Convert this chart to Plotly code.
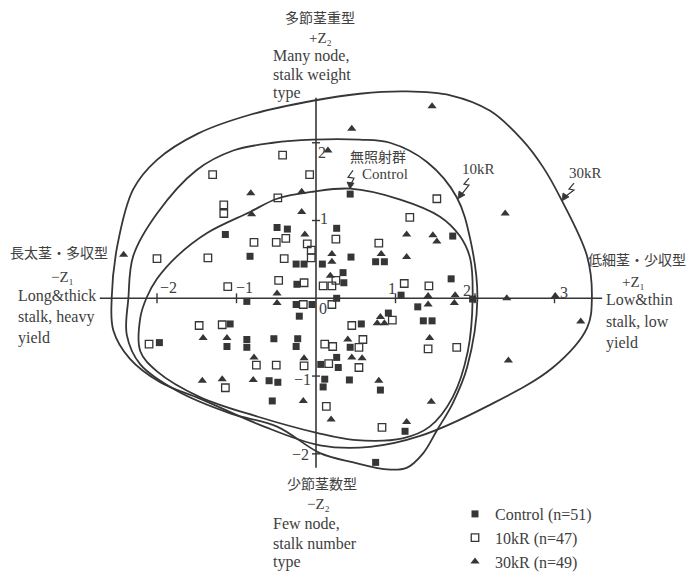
import plotly.graph_objects as go

# ---------------- data (principal component scores) ----------------
ctrl_x = [0.43, -0.49, -0.36, 0.26, -1.14, -0.83, -0.25, -0.15, 0.08, 0.44, 0.75, 0.86, 1.72, 0.34, 0.35,
          -0.24, 0.26, 1.07, 1.70, 1.97, -0.05, -0.25, -0.87, -0.21, 1.28, 0.91, 0.57, 1.35, 1.46, -1.08,
          -1.97, -1.12, -0.87, -0.87, -0.53, -0.23, -0.25, 0.43, 0.26, 0.06, 0.28, 0.11, 0.09, 0.42, 0.81,
          -0.59, -0.48, -0.55, 1.12, 0.75]
ctrl_y = [1.34, 0.91, 0.89, 0.90, 0.82, 0.54, 0.44, 0.44, 0.44, 0.53, 0.47, 0.47, 0.80, 0.33, 0.20,
          0.18, 0.00, 0.04, 0.25, -0.01, -0.08, -0.08, -0.04, -0.23, -0.11, -0.19, -0.33, -0.29, -0.29, -0.33,
          -0.57, -0.62, -0.53, -0.63, -0.52, -0.52, -0.62, -0.63, -0.76, -0.85, -0.89, -1.04, -1.14, -1.05, -1.18,
          -1.06, -1.08, -1.32, -1.71, -2.11]

k10_x = [-0.42, -0.08, -1.30, 1.52, -0.48, -1.16, -1.16, 1.18, 0.25, -0.38, -0.78, -0.50, -0.11, -0.06, -0.06,
         0.79, -2.00, -1.36, -0.40, 0.25, -0.15, 0.09, 0.20, -0.47, -1.11, 1.11, 1.42, -0.16, 0.20, 0.96,
         0.45, 0.59, 0.11, 0.21, 0.54, 0.16, -0.15, 0.54, 1.41, 1.77, -1.47, -1.18, -2.10, -0.75, -0.50,
         -1.14, 0.13, 0.83]
k10_y = [1.84, 1.59, 1.59, 1.28, 1.29, 1.20, 1.09, 1.04, 0.76, 0.77, 0.72, 0.72, 0.70, 0.62, 0.52,
         0.71, 0.51, 0.52, 0.51, 0.23, 0.20, 0.16, 0.16, 0.23, 0.15, 0.19, 0.16, -0.08, -0.08, -0.28,
         -0.35, -0.53, -0.59, -0.62, -0.63, -0.84, -0.87, -0.89, -0.65, -0.63, -0.35, -0.34, -0.59, -0.86, -0.86,
         -1.15, -1.39, -1.66]

k30_x = [1.46, 0.45, 0.15, -0.82, -0.18, 2.38, -0.81, -0.18, -0.14, -2.42, 0.20, 0.20, 0.82, 1.14, 1.47,
         1.52, 1.14, 0.18, -0.49, -0.49, 1.41, 1.75, 1.74, 1.41, 2.40, 3.01, 3.33, 0.81, 0.77, 0.86,
         1.43, 0.40, 0.45, 0.58, -0.15, -1.42, -1.12, -0.78, -1.43, -1.18, -0.79, 0.79, 2.42, -0.16, 0.19,
         1.45, 1.14]
k30_y = [2.47, 2.18, 1.90, 1.35, 1.37, 1.09, 1.08, 1.11, 0.82, 0.56, 0.57, 0.47, 0.57, 0.82, 0.81,
         0.73, 0.53, 0.29, 0.06, -0.06, 0.03, 0.04, -0.06, -0.08, 0.00, 0.03, -0.30, -0.24, -0.32, -0.32,
         -0.51, -0.53, -0.76, -0.77, -0.77, -0.51, -0.51, -0.76, -1.06, -1.04, -1.05, -1.06, -0.80, -1.32, -1.56,
         -1.33, -1.59]

# hand-drawn group envelopes (closed curves)
ctrl_env_x = [-0.04, 0.43, 1.06, 1.56, 1.81, 1.94, 1.97, 1.91, 1.72, 1.43, 1.09, 0.47, 0.01, -0.74, -1.46,
              -2.00, -2.21, -2.21, -2.13, -2.00, -1.75, -1.37, -0.83, -0.49]
ctrl_env_y = [1.37, 1.41, 1.27, 1.05, 0.80, 0.51, 0.00, -0.68, -1.27, -1.65, -1.80, -1.82, -1.73, -1.52, -1.27,
              -0.94, -0.68, -0.25, 0.01, 0.25, 0.54, 0.84, 1.11, 1.28]

k10_env_x = [-0.04, 0.55, 0.93, 1.40, 1.77, 1.94, 2.03, 1.90, 1.72, 1.52, 1.35, 1.14, 0.89, 0.47, 0.05,
             -0.49, -1.08, -1.75, -2.21, -2.38, -2.36, -2.30, -2.00, -1.50, -1.04, -0.54]
k10_env_y = [2.04, 2.04, 2.00, 1.75, 1.30, 0.76, 0.00, -0.89, -1.35, -1.70, -1.99, -2.18, -2.20, -2.11, -1.99,
             -1.65, -1.48, -1.19, -0.85, -0.47, 0.00, 0.54, 1.09, 1.65, 1.90, 2.00]

k30_env_x = [-0.04, 0.55, 1.14, 1.69, 2.19, 2.60, 2.86, 3.07, 3.41, 3.47, 3.41, 2.98, 2.15, 1.31, 0.68,
             0.05, -0.70, -1.46, -1.96, -2.34, -2.55, -2.57, -2.50, -2.30, -2.00, -1.48, -0.83]
k30_env_y = [2.54, 2.63, 2.66, 2.61, 2.41, 2.03, 1.68, 1.30, 0.54, 0.00, -0.38, -0.89, -1.39, -1.77, -1.91,
             -1.89, -1.63, -1.29, -1.08, -0.78, -0.41, 0.00, 0.67, 1.40, 1.78, 2.12, 2.36]

# axes
x_axis_extent = [-2.72, 3.60]
y_axis_extent = [-2.18, 2.58]
x_ticks = [-2, -1, 1, 2, 3]
x_tick_labels = ["−2", "−1", "1", "2", "3"]
y_ticks = [-2, -1, 1, 2]
y_tick_label_vals = [2, 1, 0, -1, -2]
y_tick_labels = ["2", "1", "0", "−1", "−2"]

series_names = ["Control (n=51)", "10kR (n=47)", "30kR (n=49)"]

# ---------------- styling / layout helpers ----------------
INK = "#363636"
TXT = "#404040"
FONT = "Liberation Serif, DejaVu Serif, Noto Sans CJK JP, serif"
W, H = 696, 579
OX, OY, SX, SY = 316, 303, 79.5, 79.0   # pixel position of origin and pixels per unit


def D(px, py):
    """pixel position in the picture -> data coordinates"""
    return (px - OX) / SX, (OY - py) / SY


fig = go.Figure()

for ex, ey in [(k30_env_x, k30_env_y), (k10_env_x, k10_env_y), (ctrl_env_x, ctrl_env_y)]:
    fig.add_trace(go.Scatter(x=ex + ex[:1], y=ey + ey[:1], mode="lines",
                             line=dict(shape="spline", smoothing=1.0, color=INK, width=1.8),
                             hoverinfo="skip", showlegend=False))

fig.add_trace(go.Scatter(x=ctrl_x, y=ctrl_y, mode="markers", name=series_names[0],
                         marker=dict(symbol="square", size=7, color=INK)))
fig.add_trace(go.Scatter(x=k10_x, y=k10_y, mode="markers", name=series_names[1],
                         marker=dict(symbol="square-open", size=7.5, color=INK, line=dict(width=1.3, color=INK))))
fig.add_trace(go.Scatter(x=k30_x, y=k30_y, mode="markers", name=series_names[2],
                         marker=dict(symbol="triangle-up", size=8, color=INK)))

shapes = []
shapes.append(dict(type="line", x0=x_axis_extent[0], x1=x_axis_extent[1], y0=0, y1=0,
                   line=dict(color=INK, width=1.6), layer="below"))
shapes.append(dict(type="line", x0=0, x1=0, y0=y_axis_extent[0], y1=y_axis_extent[1],
                   line=dict(color=INK, width=1.6), layer="below"))
tlx = 5 / SY
tly = 4 / SX
for t in x_ticks:
    shapes.append(dict(type="line", x0=t, x1=t, y0=-tlx, y1=tlx, line=dict(color=INK, width=1.4)))
for t in y_ticks:
    shapes.append(dict(type="line", x0=-tly, x1=tly, y0=t, y1=t, line=dict(color=INK, width=1.4)))


# zigzag pointer marks with small arrowheads
def path_of(pts, close=False):
    s = ""
    for i, (px, py) in enumerate(pts):
        x, y = D(px, py)
        s += ("M" if i == 0 else " L") + f"{x:.4f},{y:.4f}"
    return s + (" Z" if close else "")


zigs = [
    [(353, 173), (348, 180), (354, 181), (351, 187)],
    [(469, 181), (464, 187), (469, 188), (462, 197)],
    [(574, 186), (569, 192), (574, 193), (566, 199)],
]
heads = [
    [(350, 192), (347, 185), (354, 186)],
    [(458, 202), (459, 194), (465, 198)],
    [(562, 204), (563, 196), (569, 200)],
]
for z in zigs:
    shapes.append(dict(type="path", path=path_of(z), line=dict(color=INK, width=1.2)))
for h in heads:
    shapes.append(dict(type="path", path=path_of(h, close=True), fillcolor=INK,
                       line=dict(color=INK, width=0.8)))

ann = []


def text(t, px, py, size=16, xanchor="center"):
    x, y = D(px, py)
    ann.append(dict(x=x, y=y, text=t, showarrow=False, xanchor=xanchor, yanchor="middle",
                    font=dict(family=FONT, size=size, color=TXT)))


# tick labels
x_lab_off = [(11, -11), (8, -11), (-4, -10), (-8, -8), (9, -6)]
for v, lab, (ox, oy) in zip(x_ticks, x_tick_labels, x_lab_off):
    text(lab, OX + v * SX + ox, OY + oy, size=16)
y_lab_off = [(6, 10), (8, -2), (7, 10), (-14, 3), (-16, 1)]
for v, lab, (ox, oy) in zip(y_tick_label_vals, y_tick_labels, y_lab_off):
    text(lab, OX + ox, OY - v * SY + oy, size=16)

# group labels
text("無照射群", 378, 160, size=14)
text("Control", 385, 177, size=15)
text("10kR", 478, 172, size=15)
text("30kR", 585, 176, size=15)

# pole labels: top
text("多節茎重型", 320, 18, size=14)
text("+Z₂", 320, 39, size=15)
text("Many node,", 271, 57, size=16, xanchor="left")
text("stalk weight", 271, 76, size=16, xanchor="left")
text("type", 271, 94, size=16, xanchor="left")
# bottom
text("少節茎数型", 322, 492, size=14)
text("−Z₂", 318, 512, size=15)
text("Few node,", 271, 532, size=16, xanchor="left")
text("stalk number", 271, 552, size=16, xanchor="left")
text("type", 271, 571, size=16, xanchor="left")
# left
text("長太茎・多収型", 59, 258, size=14)
text("−Z₁", 62, 281, size=15)
text("Long&amp;thick", 16, 301, size=16, xanchor="left")
text("stalk, heavy", 16, 322, size=16, xanchor="left")
text("yield", 16, 343, size=16, xanchor="left")
# right
text("低細茎・少収型", 637, 265, size=14)
text("+Z₁", 633, 286, size=15)
text("Low&amp;thin", 604, 304, size=16, xanchor="left")
text("stalk, low", 604, 327, size=16, xanchor="left")
text("yield", 604, 348, size=16, xanchor="left")

x_lo, _ = D(0, 0)
x_hi, _ = D(W, 0)
_, y_lo = D(0, H)
_, y_hi = D(0, 0)

fig.update_layout(
    width=W, height=H, autosize=False,
    margin=dict(l=0, r=0, t=0, b=0, pad=0),
    paper_bgcolor="white", plot_bgcolor="white",
    xaxis=dict(range=[x_lo, x_hi], visible=False, fixedrange=True),
    yaxis=dict(range=[y_lo, y_hi], visible=False, fixedrange=True),
    shapes=shapes, annotations=ann,
    showlegend=True,
    legend=dict(x=455 / W, y=1 - 505 / H, xanchor="left", yanchor="top",
                bgcolor="rgba(0,0,0,0)", borderwidth=0, itemwidth=30, tracegroupgap=0,
                font=dict(family=FONT, size=16, color=TXT)),
    font=dict(family=FONT, color=TXT),
)

fig.write_html("out.html")
